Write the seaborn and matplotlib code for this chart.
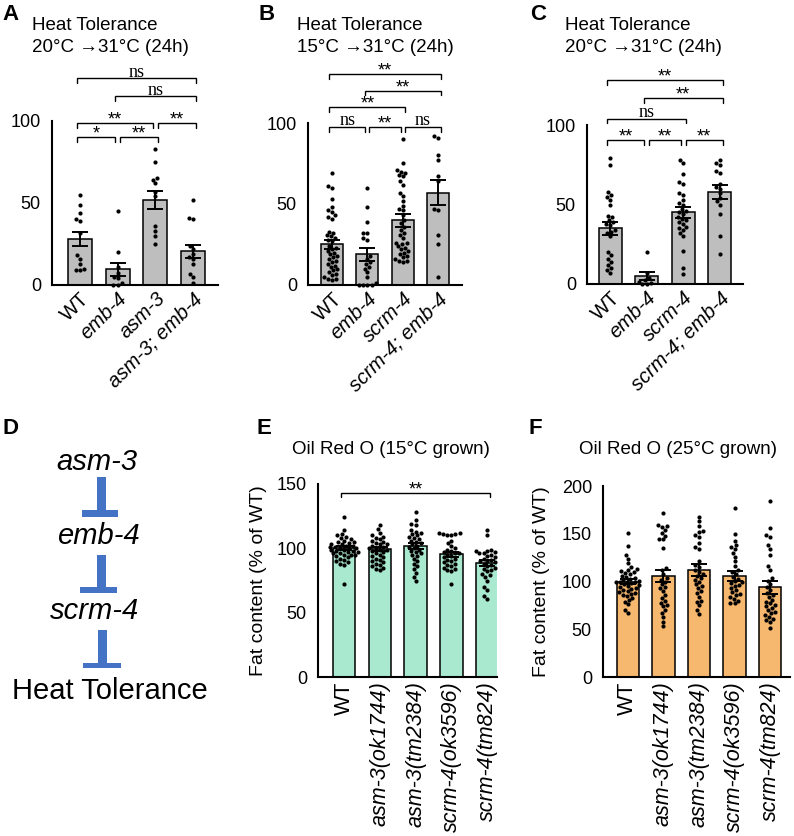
import numpy as np
import pandas as pd
import matplotlib
matplotlib.use('Agg')
import matplotlib.pyplot as plt
from matplotlib.patches import Rectangle
import seaborn as sns
import warnings
warnings.filterwarnings('ignore')

sns.set_theme(style='white')
plt.rcParams['font.family'] = ['Liberation Sans', 'DejaVu Sans']
plt.rcParams.update({'axes.edgecolor': 'black', 'text.color': 'black',
                     'xtick.color': 'black', 'ytick.color': 'black',
                     'axes.labelcolor': 'black', 'axes.unicode_minus': False})

# ---------------- data ----------------
# Panel A
a_genotypes = ['WT', 'emb-4', 'asm-3', 'asm-3; emb-4']
a_means = [28, 9.5, 52, 20.5]
a_sems = [4.3, 4.2, 5.6, 4.0]
a_wt = [55, 49, 44, 40, 39, 32, 18, 16, 13, 10, 9, 9]
a_emb4 = [45, 20, 11, 7.5, 5, 4, 1, 0, 0]
a_asm3 = [83, 75, 65, 64, 62, 57, 54, 36, 33, 30, 25]
a_double = [52, 41, 40, 24, 22, 19, 17, 16, 13, 7, 5, 1]
a_pairs = [(0, 1), (1, 2), (0, 2), (2, 3), (1, 3), (0, 3)]
a_heights = [90, 90, 99, 99, 115, 126]
a_labels = ['*', '**', '**', '**', 'ns', 'ns']

# Panel B
b_genotypes = ['WT', 'emb-4', 'scrm-4', 'scrm-4; emb-4']
b_means = [25, 19, 40, 57]
b_sems = [2.8, 3.9, 3.9, 7.8]
b_wt = [69, 61, 60, 53, 48, 46, 45, 43, 42, 41, 33, 32, 31, 30, 29, 28, 27, 24, 23, 22,
        21, 20, 19, 18, 17, 16, 15, 14, 13, 12, 11, 10, 9, 8, 7, 6, 5, 4, 4, 3]
b_emb4 = [60, 48, 39, 32, 32, 29, 28, 18, 16, 14, 13, 11, 10, 8, 5, 1, 0, 0, 0, 0]
b_scrm4 = [90, 75, 71, 70, 69, 68, 67, 64, 62, 57, 55, 52, 49, 47, 46, 43, 40, 38, 36, 34,
           32, 31, 29, 26, 25, 24, 23, 22, 21, 20, 19, 18, 17, 16, 15, 15, 14, 26]
b_double = [92, 91, 80, 77, 67, 64, 47, 46, 31, 25, 5]
b_pairs = [(0, 1), (1, 2), (2, 3), (0, 2), (1, 3), (0, 3)]
b_heights = [97.5, 97.5, 97.5, 110, 120, 130]
b_labels = ['ns', '**', 'ns', '**', '**', '**']

# Panel C
c_genotypes = ['WT', 'emb-4', 'scrm-4', 'scrm-4; emb-4']
c_means = [35, 5, 45, 58]
c_sems = [4.0, 2.5, 3.7, 4.4]
c_wt = [79, 75, 58, 56, 55, 53, 50, 43, 42, 40, 39, 38, 37, 34, 33, 32, 30, 20, 18, 16,
        14, 12, 10, 9, 7]
c_emb4 = [20, 7, 3.6, 2.5, 1.5, 0.4, 0, 0]
c_scrm4 = [78, 76, 69, 64, 63, 57, 56, 53, 51, 50, 47, 46, 45, 44, 42, 41, 40, 39, 38, 36,
           35, 34, 32, 30, 21, 10, 6]
c_double = [78, 76, 75, 71, 70, 63, 61, 60, 57, 54, 52, 50, 44, 30, 19]
c_pairs = [(0, 1), (1, 2), (2, 3), (0, 2), (1, 3), (0, 3)]
c_heights = [90.5, 90.5, 90.5, 104, 117, 128]
c_labels = ['**', '**', '**', 'ns', '**', '**']

# Panel E / F strains
ef_strains = ['WT', 'asm-3(ok1744)', 'asm-3(tm2384)', 'scrm-4(ok3596)', 'scrm-4(tm824)']

# Panel E (15 C grown)
e_means = [100, 99.5, 101.5, 95.5, 88.5]
e_sems = [1.6, 1.6, 2.4, 2.0, 2.1]
e_wt = [124, 114, 111, 110, 109, 108, 107, 106, 105, 105, 104, 103, 103, 102, 102, 101, 101,
        100, 100, 100, 99, 99, 98, 98, 97, 97, 96, 95, 95, 94, 93, 92, 91, 90, 89, 88, 87,
        96, 95, 72]
e_ok1744 = [118, 115, 112, 110, 109, 108, 107, 106, 105, 104, 103, 103, 102, 101, 100, 100,
            99, 99, 98, 97, 96, 95, 94, 93, 92, 91, 90, 89, 88, 87, 86, 85, 84, 83]
e_tm2384 = [128, 122, 119, 118, 114, 113, 112, 111, 110, 109, 108, 107, 106, 105, 104, 103,
            102, 101, 100, 99, 98, 97, 96, 95, 94, 92, 90, 88, 86, 84, 81, 78, 75]
e_ok3596 = [112, 112, 111, 111, 110, 110, 106, 104, 102, 100, 99, 98, 97, 96, 96, 95, 94,
            93, 92, 91, 90, 89, 88, 87, 86, 85, 84, 83, 82, 72]
e_tm824 = [114, 110, 99, 98, 98, 97, 96, 96, 95, 94, 93, 92, 91, 90, 90, 89, 88, 87, 86, 85,
           84, 83, 82, 80, 79, 78, 75, 70, 68, 63, 61]
e_pairs = [(0, 4)]
e_heights = [143]
e_labels = ['**']

# Panel F (25 C grown)
f_means = [100, 106, 112, 106, 94]
f_sems = [2.9, 6.0, 6.0, 5.0, 7.0]
f_wt = [151, 137, 128, 124, 119, 115, 113, 112, 111, 110, 109, 108, 106, 105, 104, 103, 102,
        101, 100, 100, 99, 99, 98, 97, 96, 95, 94, 93, 92, 91, 90, 89, 88, 87, 86, 85, 83,
        81, 79, 76, 70, 67]
f_ok1744 = [172, 159, 158, 157, 154, 151, 148, 145, 144, 135, 114, 112, 108, 104, 102, 100,
            97, 94, 93, 90, 86, 83, 80, 78, 75, 74, 70, 67, 63, 58, 53]
f_tm2384 = [168, 163, 140, 158, 153, 152, 149, 147, 136, 134, 121, 117, 115, 112, 110, 108,
            106, 104, 102, 100, 97, 95, 93, 90, 88, 84, 80, 79, 75, 70, 66]
f_ok3596 = [177, 150, 142, 138, 136, 134, 130, 126, 121, 116, 112, 110, 108, 105, 103, 101,
            99, 98, 96, 95, 93, 91, 89, 87, 86, 84, 82, 80, 78, 77]
f_tm824 = [184, 156, 149, 147, 138, 134, 128, 116, 112, 104, 101, 97, 94, 91, 88, 86, 84, 81,
           79, 77, 75, 74, 72, 70, 68, 67, 65, 63, 61, 60, 58, 51]

GRAY = '#BEBEBE'
MINT = '#A9E9CF'
ORANGE = '#F6B86E'
BLUE = '#4472C4'

W, H = 794, 836
fig = plt.figure(figsize=(W / 100, H / 100), dpi=100)


def px_axes(left, right, top, bottom):
    return fig.add_axes([left / W, 1 - bottom / H, (right - left) / W, (bottom - top) / H])


def long_df(cats, groups):
    rows = []
    for c, g in zip(cats, groups):
        for v in g:
            rows.append((c, v))
    return pd.DataFrame(rows, columns=['genotype', 'value'])


def draw_brackets(ax, pairs, heights, labels, tick):
    for (i, j), y, lab in zip(pairs, heights, labels):
        x0, x1 = i - 0.08, j + 0.08
        for (k, l), y2 in zip(pairs, heights):
            if y2 == y and l == i:
                x0 = i + 0.06
            if y2 == y and k == j:
                x1 = j - 0.06
        ax.plot([x0, x0, x1, x1], [y - tick, y, y, y - tick], color='black', lw=1.0,
                clip_on=False, solid_joinstyle='miter', zorder=5)
        if lab == 'ns':
            ax.annotate('ns', xy=((x0 + x1) / 2, y), xytext=(0, 1.2), textcoords='offset points',
                        ha='center', va='baseline', fontsize=13,
                        family=['Liberation Serif', 'DejaVu Serif'], annotation_clip=False)
        else:
            ax.annotate(lab, xy=((x0 + x1) / 2, y), xytext=(0, -1.0), textcoords='offset points',
                        ha='center', va='baseline', fontsize=13, annotation_clip=False)


def bar_panel(ax, cats, means, sems, groups, color, xlim, ylim, yticks, rot, xlabsize):
    sns.barplot(x=cats, y=means, order=cats, color=color, saturation=1, width=0.63,
                edgecolor='black', linewidth=1.1, errorbar=None, ax=ax, zorder=2)
    df = long_df(cats, groups)
    sns.swarmplot(data=df, x='genotype', y='value', order=cats, color='black', size=3.0,
                  ax=ax, zorder=3, clip_on=False)
    ax.errorbar(range(len(cats)), means, yerr=sems, fmt='none', ecolor='black',
                elinewidth=1.4, capsize=6, capthick=1.4, zorder=4, clip_on=False)
    ax.set_xlim(*xlim)
    ax.set_ylim(*ylim)
    ax.set_yticks(yticks)
    ax.set_xlabel('')
    ax.set_ylabel('')
    for s in ['top', 'right']:
        ax.spines[s].set_visible(False)
    for s in ['left', 'bottom']:
        ax.spines[s].set_linewidth(1.5)
    ax.tick_params(axis='y', direction='out', length=6, width=1.5, labelsize=13, pad=2)
    ax.tick_params(axis='x', length=0, pad=3)
    ax.set_xticks(range(len(cats)))
    if rot == 45:
        ax.set_xticklabels(cats, rotation=45, ha='right', rotation_mode='anchor', fontsize=xlabsize)
    else:
        ax.set_xticklabels(cats, rotation=90, ha='center', va='top', fontsize=xlabsize)
    for lab in ax.get_xticklabels():
        if lab.get_text() != 'WT':
            lab.set_fontstyle('italic')
    ax.patch.set_alpha(0)


# Panel A
axA = px_axes(52, 218, 121, 285)
bar_panel(axA, a_genotypes, a_means, a_sems, [a_wt, a_emb4, a_asm3, a_double], GRAY,
          (-0.74, 3.66), (0, 100), [0, 50, 100], 45, 14.5)
draw_brackets(axA, a_pairs, a_heights, a_labels, 3)

# Panel B
axB = px_axes(308, 462, 123, 285)
bar_panel(axB, b_genotypes, b_means, b_sems, [b_wt, b_emb4, b_scrm4, b_double], GRAY,
          (-0.68, 3.68), (0, 100), [0, 50, 100], 45, 14.5)
draw_brackets(axB, b_pairs, b_heights, b_labels, 3)

# Panel C
axC = px_axes(587, 743, 125, 284)
bar_panel(axC, c_genotypes, c_means, c_sems, [c_wt, c_emb4, c_scrm4, c_double], GRAY,
          (-0.63, 3.63), (0, 100), [0, 50, 100], 45, 14.5)
draw_brackets(axC, c_pairs, c_heights, c_labels, 3)

# Panel E
axE = px_axes(318, 497, 484, 677)
bar_panel(axE, ef_strains, e_means, e_sems, [e_wt, e_ok1744, e_tm2384, e_ok3596, e_tm824],
          MINT, (-0.73, 4.28), (0, 150), [0, 50, 100, 150], 90, 15.5)
draw_brackets(axE, e_pairs, e_heights, e_labels, 3)
axE.set_ylabel('Fat content (% of WT)', fontsize=14)
axE.yaxis.set_label_coords(-0.285, 0.5)

# Panel F
axF = px_axes(603, 790, 486, 677)
bar_panel(axF, ef_strains, f_means, f_sems, [f_wt, f_ok1744, f_tm2384, f_ok3596, f_tm824],
          ORANGE, (-0.70, 4.56), (0, 200), [0, 50, 100, 150, 200], 90, 15.5)
axF.set_ylabel('Fat content (% of WT)', fontsize=14)
axF.yaxis.set_label_coords(-0.283, 0.5)

# Panel letters and titles
for letter, x, y in [('A', 2, 15), ('B', 258, 15), ('C', 530, 15),
                     ('D', 2, 428), ('E', 257, 428), ('F', 528, 428)]:
    fig.text(x / W, 1 - y / H, letter, fontsize=16, fontweight='bold', va='center', ha='left')

for x, l2 in [(32, '20°C →31°C (24h)'), (297, '15°C →31°C (24h)'), (565, '20°C →31°C (24h)')]:
    fig.text(x / W, 1 - 25 / H, 'Heat Tolerance', fontsize=13.5, va='center', ha='left')
    fig.text(x / W, 1 - 47 / H, l2, fontsize=13.5, va='center', ha='left')

fig.text(391 / W, 1 - 449 / H, 'Oil Red O (15°C grown)', fontsize=13.5, va='center', ha='center')
fig.text(678 / W, 1 - 449 / H, 'Oil Red O (25°C grown)', fontsize=13.5, va='center', ha='center')

# Panel D diagram (pixel coordinates)
axD = fig.add_axes([0, 0, 1, 1], zorder=-1)
axD.set_xlim(0, W)
axD.set_ylim(H, 0)
axD.axis('off')
axD.patch.set_alpha(0)
for txt, x, y, style in [('asm-3', 97, 462, 'italic'), ('emb-4', 98, 536, 'italic'),
                         ('scrm-4', 95, 611, 'italic'), ('Heat Tolerance', 110, 691, 'normal')]:
    axD.text(x, y, txt, fontsize=21, fontstyle=style, ha='center', va='center')
for sx, st, sb, bx0, bx1, bb in [(101.5, 477, 510, 82, 118, 517),
                                  (101.5, 555, 587, 80, 117, 593),
                                  (102.5, 630, 663, 83, 121, 668)]:
    axD.add_patch(Rectangle((sx - 4.5, st), 9, sb - st, color=BLUE, lw=0))
    axD.add_patch(Rectangle((bx0, sb), bx1 - bx0, bb - sb, color=BLUE, lw=0))

fig.savefig('out.png', dpi=100)
